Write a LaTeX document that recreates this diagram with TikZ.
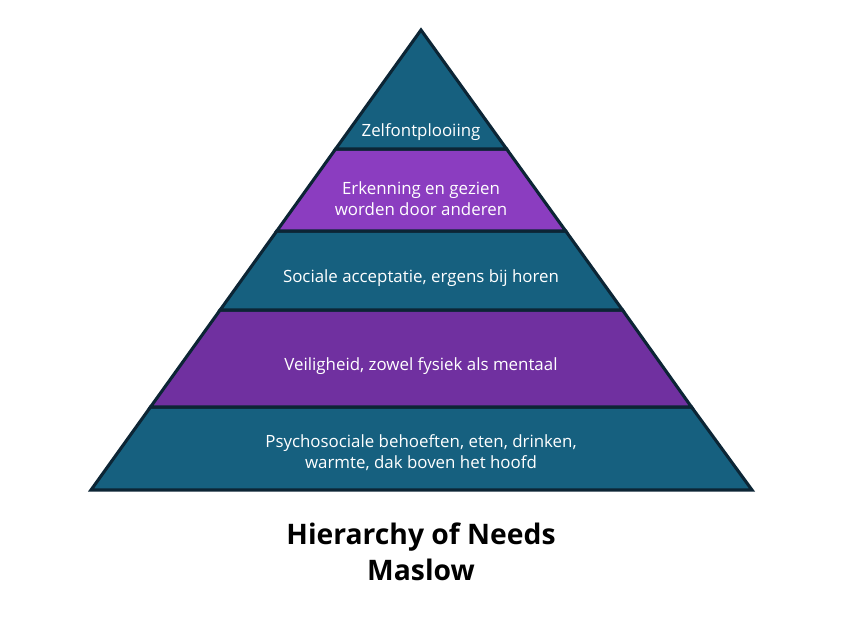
\documentclass[tikz,border=0pt]{standalone}
\usepackage{fontspec}
\setmainfont{Open Sans}
\usepackage{xcolor}
\usetikzlibrary{positioning}
\definecolor{layerteal}{HTML}{16607F}
\definecolor{layerlilac}{HTML}{8B3DC0}
\definecolor{layerplum}{HTML}{7030A0}
\definecolor{edgedark}{HTML}{0C2535}
\tikzset{
        layer/.style = {draw=edgedark, line width=2.2pt, line join=miter},
        levtext/.style = {text=white, align=center,
            font=\fontsize{12}{15}\selectfont},
        heading/.style = {text=black, align=center,
            font=\fontsize{20.1}{25.6}\selectfont\bfseries},
}

\begin{document}
\begin{tikzpicture}[x=0.025cm, y=-0.025cm]
\useasboundingbox (0,0) rectangle (841,628);
% corner points of the pyramid
\coordinate (apex) at (421,30);
\coordinate (l1) at (335.6,149); \coordinate (r1) at (506.6,149);
\coordinate (l2) at (276.8,231); \coordinate (r2) at (565.7,231);
\coordinate (l3) at (220.1,310); \coordinate (r3) at (622.5,310);
\coordinate (l4) at (150.5,407); \coordinate (r4) at (691.5,407);
\coordinate (l5) at (91,490);    \coordinate (r5) at (752,490);
% layers, bottom up
\filldraw [layer, fill=layerteal] (l4) -- (r4) -- (r5) -- (l5) -- cycle;
\filldraw [layer, fill=layerplum] (l3) -- (r3) -- (r4) -- (l4) -- cycle;
\filldraw [layer, fill=layerteal] (l2) -- (r2) -- (r3) -- (l3) -- cycle;
\filldraw [layer, fill=layerlilac] (l1) -- (r1) -- (r2) -- (l2) -- cycle;
\filldraw [layer, fill=layerteal] (apex) -- (r1) -- (l1) -- cycle;
% texts
\node [levtext] (self) at (421,132) {Zelfontplooiing};
\node [levtext] (esteem) at (421,199) {Erkenning en gezien\\worden door anderen};
\node [levtext] (belong) at (421,278) {Sociale acceptatie, ergens bij horen};
\node [levtext] (safety) at (421,366) {Veiligheid, zowel fysiek als mentaal};
\node [levtext] (basic) at (421,453) {Psychosociale behoeften, eten, drinken,\\warmte, dak boven het hoofd};
\node [heading] (title) at (421,552) {Hierarchy of Needs\\Maslow};
\end{tikzpicture}
\end{document}
